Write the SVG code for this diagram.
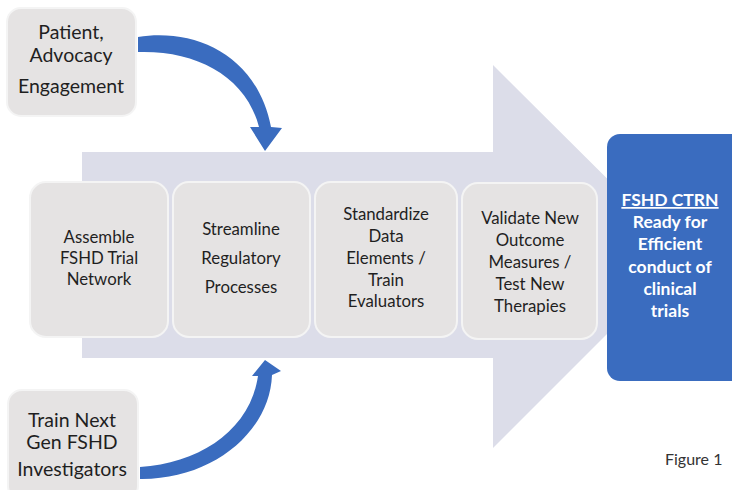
<svg xmlns="http://www.w3.org/2000/svg" width="732" height="490" viewBox="0 0 732 490">
<defs>
<style>
.box{fill:#e5e3e3;stroke:#f4f4f4;stroke-width:2}
.t{font-family:Lato,"Open Sans","Liberation Sans",sans-serif;fill:#1f1f1f;text-anchor:middle}
.m{font-size:16.8px}
.s{font-size:19.5px}
.w{font-family:Lato,"Open Sans","Liberation Sans",sans-serif;fill:#ffffff;font-weight:bold;font-size:17.5px;text-anchor:middle}
.curve{fill:#3a6cbf}
</style>
</defs>
<rect width="732" height="490" fill="#ffffff"/>
<g id="big-arrow">
<polygon points="82,152 493,152 493,65 685,256 493,448 493,358 82,358" fill="#dcdde9"/>
</g>
<g id="node-patient">
<rect class="box" x="7" y="8" width="129" height="108" rx="14"/>
<text class="t s" x="71" y="39">Patient,</text>
<text class="t s" x="71" y="62">Advocacy</text>
<text class="t s" x="71" y="93">Engagement</text>
</g>
<g id="node-train">
<rect class="box" x="8" y="390" width="130" height="110" rx="14"/>
<text class="t s" x="72" y="427">Train Next</text>
<text class="t s" x="72" y="449">Gen FSHD</text>
<text class="t s" x="72" y="476">Investigators</text>
</g>
<g id="node-assemble">
<rect class="box" x="30" y="182" width="138" height="155" rx="16"/>
<text class="t m" x="99" y="243">Assemble</text>
<text class="t m" x="99" y="264">FSHD Trial</text>
<text class="t m" x="99" y="285">Network</text>
</g>
<g id="node-streamline">
<rect class="box" x="173" y="182" width="137" height="155" rx="16"/>
<text class="t m" x="241" y="235">Streamline</text>
<text class="t m" x="241" y="264">Regulatory</text>
<text class="t m" x="241" y="293">Processes</text>
</g>
<g id="node-standardize">
<rect class="box" x="315" y="182" width="142" height="155" rx="16"/>
<text class="t m" x="386" y="220">Standardize</text>
<text class="t m" x="386" y="242">Data</text>
<text class="t m" x="386" y="264">Elements /</text>
<text class="t m" x="386" y="286">Train</text>
<text class="t m" x="386" y="307">Evaluators</text>
</g>
<g id="node-validate">
<rect class="box" x="462" y="183" width="135" height="156" rx="16"/>
<text class="t m" x="530" y="224">Validate New</text>
<text class="t m" x="530" y="246">Outcome</text>
<text class="t m" x="530" y="268">Measures /</text>
<text class="t m" x="530" y="290">Test New</text>
<text class="t m" x="530" y="312">Therapies</text>
</g>
<g id="node-ctrn">
<rect x="607" y="134" width="140" height="247" rx="13" fill="#3a6cbf"/>
<text class="w" x="670" y="206" text-decoration="underline">FSHD CTRN</text>
<text class="w" x="670" y="228">Ready for</text>
<text class="w" x="670" y="250">Efficient</text>
<text class="w" x="670" y="273">conduct of</text>
<text class="w" x="670" y="295">clinical</text>
<text class="w" x="670" y="317">trials</text>
</g>
<g id="connectors">
<path class="curve" d="M138,37 C195,28 257,55 271,127 L282,128 L265,151 L250,127 L259,127 C246,76 196,50 138,52 Z"/>
<path class="curve" d="M140,467 C200,463 250,430 258,376 L252,376 L265,360 L281,371 L272,375 C270,432 212,480 140,479 Z"/>
</g>
<text x="665" y="465" font-family="Lato,'Open Sans','Liberation Sans',sans-serif" font-size="16" fill="#333333">Figure 1</text>
</svg>
